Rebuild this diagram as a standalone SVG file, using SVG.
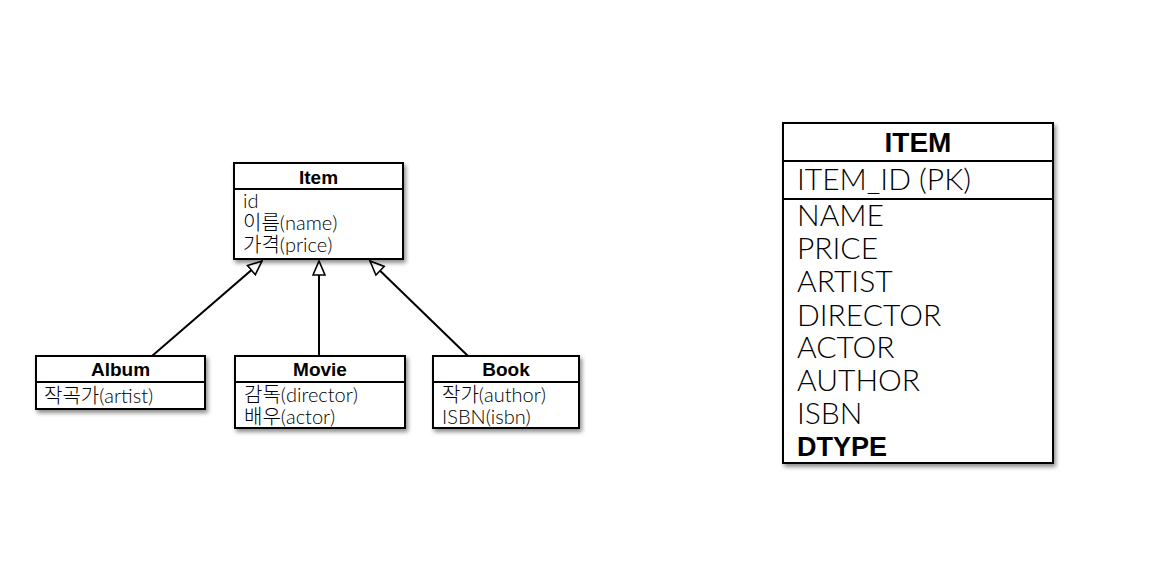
<svg xmlns="http://www.w3.org/2000/svg" width="1161" height="564" viewBox="0 0 1161 564">
<style>
.box{fill:#fff;stroke:#000;stroke-width:2;filter:url(#sh)}
.div{stroke:#000;stroke-width:2}
.hd{font-family:"Liberation Sans",Arial,"Noto Sans CJK KR",sans-serif;font-weight:bold;font-size:19px;fill:#000;text-anchor:middle}
.at{font-family:Lato,"Liberation Sans","Noto Sans CJK KR",sans-serif;font-weight:300;font-size:20px;fill:#000}
.th{font-family:"Liberation Sans",Arial,sans-serif;font-weight:bold;font-size:28px;fill:#000;text-anchor:middle}
.tr{font-family:Lato,"Liberation Sans",sans-serif;font-weight:300;font-size:30px;fill:#000}
.tb{font-family:"Liberation Sans",Arial,sans-serif;font-weight:bold;font-size:27px;fill:#000}
.con{stroke:#000;stroke-width:2;fill:none;marker-end:url(#tri)}
</style>
<defs>
<filter id="sh" x="-10%" y="-10%" width="130%" height="130%">
<feDropShadow dx="2" dy="3" stdDeviation="2" flood-color="#000" flood-opacity="0.45"/>
</filter>
<marker id="tri" viewBox="0 0 16 14" refX="15" refY="7" markerWidth="16" markerHeight="14" markerUnits="userSpaceOnUse" orient="auto">
<path d="M1,1 L15,7 L1,13 z" fill="#fff" stroke="#000" stroke-width="1.6"/>
</marker>
</defs>
<rect width="1161" height="564" fill="#fff"/>
<g id="connectors">
<line class="con" x1="152" y1="356" x2="262" y2="261"/>
<line class="con" x1="319" y1="356" x2="319" y2="261"/>
<line class="con" x1="468" y1="356" x2="370" y2="261"/>
</g>
<g id="item">
<rect class="box" x="234" y="163" width="169" height="96"/>
<line class="div" x1="234" y1="189" x2="403" y2="189"/>
<text class="hd" x="318.5" y="184">Item</text>
<text class="at" x="243" y="208">id</text>
<text class="at" x="243" y="230">이름(name)</text>
<text class="at" x="243" y="252">가격(price)</text>
</g>
<g id="album">
<rect class="box" x="36" y="356" width="169" height="53"/>
<line class="div" x1="36" y1="382" x2="205" y2="382"/>
<text class="hd" x="120.5" y="376">Album</text>
<text class="at" x="44" y="403">작곡가(artist)</text>
</g>
<g id="movie">
<rect class="box" x="235" y="356" width="170" height="72"/>
<line class="div" x1="235" y1="382" x2="405" y2="382"/>
<text class="hd" x="320" y="376">Movie</text>
<text class="at" x="244" y="402">감독(director)</text>
<text class="at" x="244" y="424">배우(actor)</text>
</g>
<g id="book">
<rect class="box" x="433" y="356" width="146" height="72"/>
<line class="div" x1="433" y1="382" x2="579" y2="382"/>
<text class="hd" x="506" y="376">Book</text>
<text class="at" x="442" y="402">작가(author)</text>
<text class="at" x="442" y="424">ISBN(isbn)</text>
</g>
<g id="item-table">
<rect class="box" x="783" y="123" width="270" height="340"/>
<line class="div" x1="783" y1="161" x2="1053" y2="161"/>
<line class="div" x1="783" y1="199" x2="1053" y2="199"/>
<text class="th" x="918" y="152">ITEM</text>
<text class="tr" x="797" y="190">ITEM_ID (PK)</text>
<text class="tr" x="797" y="226">NAME</text>
<text class="tr" x="797" y="259">PRICE</text>
<text class="tr" x="797" y="292">ARTIST</text>
<text class="tr" x="797" y="326">DIRECTOR</text>
<text class="tr" x="797" y="358">ACTOR</text>
<text class="tr" x="797" y="391">AUTHOR</text>
<text class="tr" x="797" y="424">ISBN</text>
<text class="tb" x="797" y="456">DTYPE</text>
</g>
</svg>
